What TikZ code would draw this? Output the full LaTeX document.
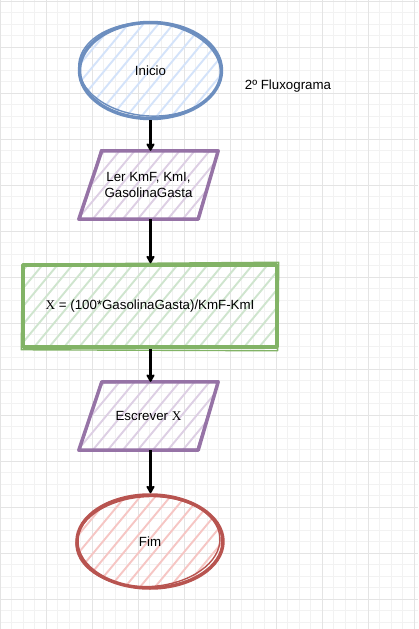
\documentclass[tikz,border=0pt]{standalone}
\usepackage{fontspec}
\setmainfont{Liberation Sans}
\newfontfamily\serifX{Liberation Serif}
\usetikzlibrary{shapes.geometric,arrows.meta}
\definecolor{cblue}{HTML}{6C8EBF}
\definecolor{hblue}{HTML}{D4E3FA}
\definecolor{cpurple}{HTML}{9673A6}
\definecolor{hpurple}{HTML}{DDCFE4}
\definecolor{cgreen}{HTML}{82B366}
\definecolor{hgreen}{HTML}{CFE5CE}
\definecolor{cred}{HTML}{B85450}
\definecolor{hred}{HTML}{F6C6C4}
\definecolor{gminor}{HTML}{F2F2F2}
\definecolor{gmajor}{HTML}{E4E4E4}
\begin{document}
\begin{tikzpicture}[x=1pt,y=-1pt,
  font=\fontsize{13.3}{16}\selectfont,
  minorgrid/.style={gminor,line width=0.8pt},
  majorgrid/.style={gmajor,line width=0.9pt},
  hatch/.style={path picture={\foreach \k in {-45,...,45}{\draw[line width=1.9pt,#1]
     ([xshift=\k*15pt,yshift=-5pt]path picture bounding box.south) -- ++(250pt,300pt);}}},
  outline/.style={line width=3.5pt,line join=round},
  sketch/.style={line width=1.4pt,line join=round},
  ptext/.style={rectangle,inner sep=0pt,minimum width=139pt,minimum height=68pt,align=center},
  arr/.style={line width=3.8pt,-{Stealth[length=9pt,width=10pt,inset=2pt,round]}}
]
\useasboundingbox (0,0) rectangle (418,629);
\fill[white] (0,0) rectangle (418,629);
\foreach \i in {0,...,37} \draw[minorgrid] (\i*11.5,0) -- (\i*11.5,629);
\foreach \i in {0,...,55} \draw[minorgrid] (0,1+\i*11.5) -- (418,1+\i*11.5);
\foreach \i in {0,...,9} \draw[majorgrid] (\i*46,0) -- (\i*46,629);
\foreach \i in {0,...,13} \draw[majorgrid] (0,1+\i*46) -- (418,1+\i*46);

% Inicio
\node[ellipse,draw=cblue,outline,minimum width=142pt,minimum height=96pt,inner sep=0pt,hatch=hblue] (inicio) at (150.5,70.5) {Inicio};
\draw[cblue,sketch,rotate around={-4:(inicio.center)}] ([xshift=-1pt,yshift=1pt]inicio.center) ellipse (71pt and 46.5pt);
\node (titulo) at (288,86) {2º Fluxograma};

% Ler
\node[ptext] (ler) at (148.5,185) {};
\draw[cpurple,outline,hatch=hpurple] ([xshift=23pt]ler.north west) -- (ler.north east) -- ([xshift=-20pt]ler.south east) -- (ler.south west) -- cycle;
\draw[cpurple,sketch] ([xshift=22pt,yshift=1pt]ler.north west) -- ([yshift=-1pt]ler.north east) -- ([xshift=-21pt]ler.south east) -- ([xshift=1pt,yshift=-1pt]ler.south west) -- cycle;
\node[align=center] (lertxt) at (ler.center) {Ler KmF, KmI,\\GasolinaGasta};

% Calculo
\node[rectangle,draw=cgreen,outline,minimum width=254pt,minimum height=82pt,inner sep=0pt,hatch=hgreen] (calc) at (150,306) {{\serifX X} = (100*GasolinaGasta)/KmF-KmI};
\draw[cgreen,sketch] ([xshift=1pt,yshift=-1pt]calc.north west) -- ([yshift=1pt]calc.north east) -- ([xshift=-1pt,yshift=-2pt]calc.south east) -- ([yshift=-1pt]calc.south west) -- cycle;

% Escrever
\node[ptext] (esc) at (148.5,416) {};
\draw[cpurple,outline,hatch=hpurple] ([xshift=23pt]esc.north west) -- (esc.north east) -- ([xshift=-20pt]esc.south east) -- (esc.south west) -- cycle;
\draw[cpurple,sketch] ([xshift=22pt,yshift=-1pt]esc.north west) -- ([yshift=1pt]esc.north east) -- ([xshift=-21pt,yshift=1pt]esc.south east) -- ([xshift=1pt]esc.south west) -- cycle;
\node (esctxt) at (esc.center) {Escrever {\serifX X}};

% Fim
\node[ellipse,draw=cred,outline,minimum width=146pt,minimum height=93pt,inner sep=0pt,hatch=hred] (fim) at (150,541.5) {Fim};
\draw[cred,sketch,rotate around={3:(fim.center)}] ([xshift=-2pt]fim.center) ellipse (72pt and 45pt);

% arrows
\draw[arr] (inicio.south) -- (inicio.south |- ler.north);
\draw[arr] (inicio.south |- ler.south) -- (inicio.south |- calc.north);
\draw[arr] (inicio.south |- calc.south) -- (inicio.south |- esc.north);
\draw[arr] (inicio.south |- esc.south) -- (inicio.south |- fim.north);
\end{tikzpicture}
\end{document}
